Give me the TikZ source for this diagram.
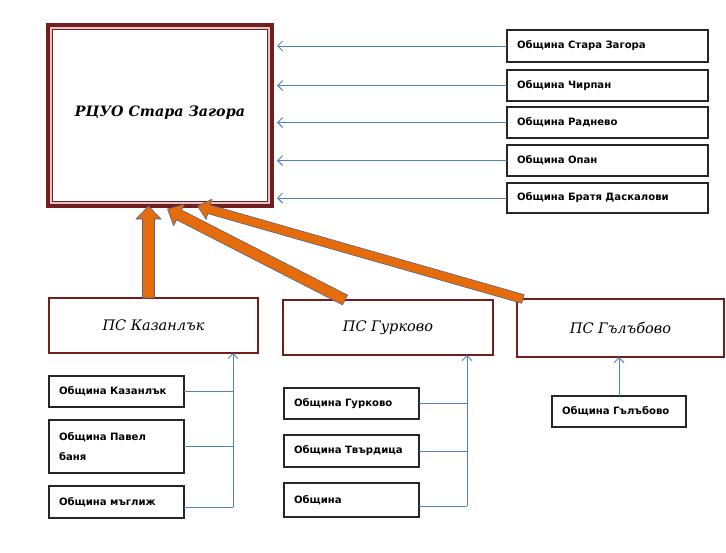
\documentclass[tikz,border=0pt]{standalone}
\usepackage{fontspec}
\setmainfont{Liberation Serif}
\newfontfamily\boxfont{DejaVu Sans}
\newfontfamily\titlefont{DejaVu Serif}
\usetikzlibrary{calc,arrows.meta}
\definecolor{ramka}{RGB}{112,30,30}
\definecolor{ramkapink}{RGB}{228,196,196}
\definecolor{liniya}{RGB}{79,129,189}
\definecolor{oranzh}{RGB}{228,108,10}
\definecolor{kontur}{RGB}{88,98,134}

\begin{document}
\begin{tikzpicture}[x=1pt, y=-1pt,
    obbox/.style={draw=black!85, line width=1.4pt, anchor=north west, inner xsep=10pt,
      inner ysep=0pt, outer sep=0pt, align=left, font=\boxfont\bfseries\fontsize{10.1}{20}\selectfont},
    psbox/.style={draw=ramka, line width=2.4pt, anchor=north west, outer sep=0pt,
      font=\titlefont\itshape\fontsize{14.5}{16}\selectfont},
    link/.style={draw=liniya, line width=1pt},
    linkarrow/.style={link, -{Straight Barb[length=5pt,width=10pt]}},
    fat/.style={fill=oranzh, draw=kontur, line width=0.6pt, line join=miter}]
            \useasboundingbox (0,0) rectangle (726,552);
            % main box
            \node[draw=ramka, fill=ramkapink, line width=3.5pt, anchor=north west, outer sep=0pt,
              minimum width=224pt, minimum height=181pt] (rcuo) at (48,25) {};
            \draw[draw=ramka, line width=0.9pt, fill=white] ([shift={(4.5,4.5)}]rcuo.north west)
              rectangle ([shift={(-4.5,-4.5)}]rcuo.south east);
            \node[font=\titlefont\bfseries\itshape\fontsize{14.3}{16}\selectfont] (rcuotext)
              at ([yshift=3pt]rcuo.center) {РЦУО Стара Загора};
            % municipalities on the right
            \node[obbox, text width=181pt, minimum height=32pt] (ob1) at (507,30) {Община Стара Загора};
            \node[obbox, text width=181pt, minimum height=31pt] (ob2) at (507,70) {Община Чирпан};
            \node[obbox, text width=181pt, minimum height=31pt] (ob3) at (507,107) {Община Раднево};
            \node[obbox, text width=181pt, minimum height=31pt] (ob4) at (507,145) {Община Опан};
            \node[obbox, text width=181pt, minimum height=30pt] (ob5) at (507,183) {Община Братя Даскалови};
            \draw[linkarrow, shorten >=5pt] (ob1.west) -- (ob1.west -| rcuo.east);
            \draw[linkarrow, shorten >=5pt] (ob2.west) -- (ob2.west -| rcuo.east);
            \draw[linkarrow, shorten >=5pt] (ob3.west) -- (ob3.west -| rcuo.east);
            \draw[linkarrow, shorten >=5pt] (ob4.west) -- (ob4.west -| rcuo.east);
            \draw[linkarrow, shorten >=5pt] (ob5.west) -- (ob5.west -| rcuo.east);
            % regional stations
            \node[psbox, minimum width=209pt, minimum height=55pt] (kaz) at (49,298) {ПС Казанлък};
            \node[psbox, minimum width=210pt, minimum height=55pt] (gur) at (283,300) {ПС Гурково};
            \node[psbox, minimum width=207pt, minimum height=58pt] (gal) at (517,299) {ПС Гълъбово};
            % fat arrows to the main box
            \coordinate (kazTail) at ([xshift=-5pt]kaz.north);
            \coordinate (tip1) at (kazTail |- rcuo.south);
            \coordinate (gurTail) at ([xshift=62pt]gur.north west);
            \coordinate (tip2) at ([shift={(7.5,3)}]rcuo.south);
            \coordinate (galTail) at ([xshift=6pt]gal.north west);
            \coordinate (tip3) at ([shift={(37.5,0)}]rcuo.south);
            \coordinate (h1) at ($(tip1)!13pt!(kazTail)$);
            \coordinate (h2) at ($(tip2)!13pt!(gurTail)$);
            \coordinate (h3) at ($(tip3)!12pt!(galTail)$);
            \draw[fat] ($(kazTail)!6pt!90:(tip1)$) -- ($(h1)!6pt!90:(tip1)$) -- ($(h1)!12.5pt!90:(tip1)$)
              -- (tip1) -- ($(h1)!12.5pt!-90:(tip1)$) -- ($(h1)!6pt!-90:(tip1)$)
              -- ($(kazTail)!6pt!-90:(tip1)$) -- cycle;
            \draw[fat] ($(gurTail)!5.5pt!90:(tip2)$) -- ($(h2)!5.5pt!90:(tip2)$) -- ($(h2)!12pt!90:(tip2)$)
              -- (tip2) -- ($(h2)!12pt!-90:(tip2)$) -- ($(h2)!5.5pt!-90:(tip2)$)
              -- ($(gurTail)!5.5pt!-90:(tip2)$) -- cycle;
            \draw[fat] ($(galTail)!4.5pt!90:(tip3)$) -- ($(h3)!4.5pt!90:(tip3)$) -- ($(h3)!10.5pt!90:(tip3)$)
              -- (tip3) -- ($(h3)!10.5pt!-90:(tip3)$) -- ($(h3)!4.5pt!-90:(tip3)$)
              -- ($(galTail)!4.5pt!-90:(tip3)$) -- cycle;
            % Kazanlak group
            \node[obbox, text width=115pt, minimum height=31pt] (kob1) at (49,376) {Община Казанлък};
            \node[obbox, text width=115pt, minimum height=53pt] (kob2) at (49,420) {Община Павел\\баня};
            \node[obbox, text width=115pt, minimum height=32pt] (kob3) at (49,486) {Община мъглиж};
            \coordinate (kbus) at (233,0);
            \draw[link] (kob1.east) -- (kob1.east -| kbus);
            \draw[link] (kob2.east) -- (kob2.east -| kbus);
            \draw[link] ([yshift=-5pt]kob3.east) -- ([yshift=-5pt]kob3.east -| kbus);
            \draw[linkarrow] ([yshift=-5pt]kob3.east -| kbus) -- (kaz.south -| kbus);
            % Gurkovo group
            \node[obbox, text width=115pt, minimum height=31pt] (gob1) at (284,388) {Община Гурково};
            \node[obbox, text width=115pt, minimum height=32pt] (gob2) at (284,435) {Община Твърдица};
            \node[obbox, text width=115pt, minimum height=34pt] (gob3) at (284,483) {Община};
            \coordinate (gbus) at (467,0);
            \draw[link] (gob1.east) -- (gob1.east -| gbus);
            \draw[link] (gob2.east) -- (gob2.east -| gbus);
            \draw[link] ([yshift=-6pt]gob3.east) -- ([yshift=-6pt]gob3.east -| gbus);
            \draw[linkarrow] ([yshift=-6pt]gob3.east -| gbus) -- (gur.south -| gbus);
            % Galabovo group
            \node[obbox, text width=114pt, minimum height=31pt] (lob1) at (552,396) {Община Гълъбово};
            \draw[linkarrow] (lob1.north) -- (lob1.north |- gal.south);
        \end{tikzpicture}
\end{document}
